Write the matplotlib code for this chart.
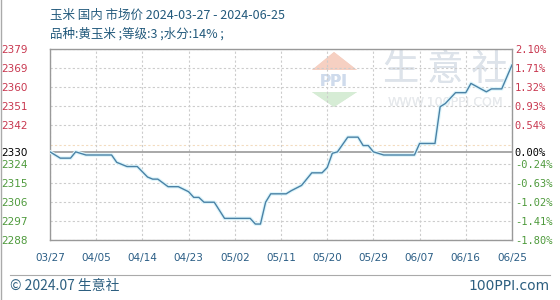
import numpy as np
import pandas as pd
import matplotlib
matplotlib.use("Agg")
import matplotlib.pyplot as plt
import matplotlib.dates as mdates
from matplotlib.patches import Polygon, Ellipse

plt.rcParams['font.family'] = ['Noto Sans CJK SC', 'DejaVu Sans']

# 价格数据
dates = ['2024-03-27', '2024-03-29', '2024-03-31', '2024-04-01', '2024-04-03',
         '2024-04-08', '2024-04-09', '2024-04-11', '2024-04-13', '2024-04-14',
         '2024-04-15', '2024-04-16', '2024-04-17', '2024-04-19', '2024-04-21',
         '2024-04-23', '2024-04-24', '2024-04-25', '2024-04-26', '2024-04-28',
         '2024-04-30', '2024-05-05', '2024-05-06', '2024-05-07', '2024-05-08',
         '2024-05-09', '2024-05-12', '2024-05-13', '2024-05-15', '2024-05-16',
         '2024-05-17', '2024-05-19', '2024-05-20', '2024-05-21', '2024-05-22',
         '2024-05-24', '2024-05-26', '2024-05-27', '2024-05-28', '2024-05-29',
         '2024-05-31', '2024-06-06', '2024-06-07', '2024-06-10', '2024-06-11',
         '2024-06-12', '2024-06-14', '2024-06-16', '2024-06-17', '2024-06-20',
         '2024-06-21', '2024-06-23', '2024-06-25']
prices = [2330, 2327, 2327, 2330, 2328.5,
          2328.5, 2325, 2323, 2323, 2320.5,
          2318, 2317, 2317, 2313.4, 2313.4,
          2311, 2308.3, 2308.3, 2306, 2306,
          2298.3, 2298.3, 2295.6, 2295.6, 2306,
          2310, 2310, 2311.5, 2314, 2317,
          2320, 2320, 2322.5, 2329.3, 2330,
          2337, 2337, 2333, 2333, 2330,
          2328.5, 2328.5, 2334, 2334, 2351.5,
          2353, 2358.2, 2358.2, 2362.6, 2358.6,
          2360, 2360, 2371.4]

base = 2330
left_ticks = [2288, 2297.1, 2306.2, 2315.3, 2324.4, 2342.6, 2351.7, 2360.8, 2369.9, 2379]
left_labels = ['2288', '2297', '2306', '2315', '2324', '2342', '2351', '2360', '2369', '2379']
right_labels = ['-1.80%', '-1.41%', '-1.02%', '-0.63%', '-0.24%', '0.54%', '0.93%', '1.32%', '1.71%', '2.10%']

x = pd.to_datetime(dates)
xticks = pd.date_range('2024-03-27', '2024-06-25', freq='9D')

fig = plt.figure(figsize=(5.6, 3.0), dpi=100)
ax = fig.add_axes([50/560, 60/300, 462/560, 191/300])

red = '#c8374f'
green = '#4e9a3c'
ax.set_ylim(2288, 2379)
ax.set_xlim(xticks[0], xticks[-1])

# 网格
for t in left_ticks:
    ax.axhline(t, color='#cccccc', lw=0.8, ls=(0, (2, 2)), zorder=1)
ax.axhline(2333.5, color='#f3dcc0', lw=0.8, ls=(0, (2, 2)), zorder=1)
for t in xticks:
    ax.axvline(t, color='#cccccc', lw=0.8, ls=(0, (2, 2)), zorder=1)
ax.axhline(base, color='#999999', lw=1.2, zorder=2)

# 水印
wm = ax.inset_axes([0, 0, 1, 1], transform=ax.transAxes)
wm.set_xlim(0, 462)
wm.set_ylim(191, 0)
wm.axis('off')
wm.set_zorder(0)
ax.patch.set_alpha(0)
wm.add_patch(Polygon([[262, 21], [307, 21], [284, 3]], closed=True, color='#f6d0c2', lw=0))
wm.add_patch(Polygon([[262, 43], [307, 43], [284, 58]], closed=True, color='#d6ecd5', lw=0))
wm.text(284, 32, 'PPI', ha='center', va='center', fontsize=11, color='#cfdbec', fontweight='bold',
        family='DejaVu Sans')
wm.text(395, 21, '生 意 社', ha='center', va='center', fontsize=26, color='#dde3ea',
        family='Noto Sans CJK SC')
wm.text(395, 54, 'WWW.100PPI.COM', ha='center', va='center', fontsize=9, color='#e6e9ec',
        family='DejaVu Sans')
fig.add_axes(wm)

ax.set_zorder(1)
ax.plot(x, prices, color='#ddf5fb', lw=2.6, zorder=3, solid_joinstyle='round')
ax.plot(x, prices, color='#4a82a6', lw=1.0, zorder=4)

for s in ax.spines.values():
    s.set_color('#999999')
    s.set_linewidth(1.0)

ax.set_yticks(left_ticks + [base])
ax.set_yticklabels(left_labels + ['2330'], fontsize=7.5, family='DejaVu Sans')
for lab, t in zip(ax.get_yticklabels(), left_ticks + [base]):
    lab.set_color('black' if t == base else (red if t > base else green))
ax.tick_params(axis='y', length=0, pad=16)

ax2 = ax.twinx()
ax2.set_ylim(ax.get_ylim())
ax2.set_yticks(left_ticks + [base])
ax2.set_yticklabels(right_labels + ['0.00%'], fontsize=7.5, family='DejaVu Sans Mono')
for lab, t in zip(ax2.get_yticklabels(), left_ticks + [base]):
    lab.set_color('black' if t == base else (red if t > base else green))
ax2.tick_params(axis='y', length=0, pad=2)
for s in ax2.spines.values():
    s.set_visible(False)

ax.set_xticks(xticks)
ax.set_xticklabels([d.strftime('%m/%d') for d in xticks], fontsize=7.5, color='#2a5d85',
                   family='DejaVu Sans')
ax.tick_params(axis='x', length=0, pad=9)

fig.text(50/560, 1 - 15/300, '玉米 国内 市场价 2024-03-27 - 2024-06-25', fontsize=9,
         color='#235a7c', va='center', ha='left')
fig.text(50/560, 1 - 34/300, '品种:黄玉米 ;等级:3 ;水分:14% ;', fontsize=9,
         color='#235a7c', va='center', ha='left')

fig.add_artist(plt.Line2D([10/560, 550/560], [1 - 275/300, 1 - 275/300], color='#aaaaaa', lw=0.8))
fig.add_artist(plt.Line2D([0.5/560, 0.5/560], [0, 1], color='#aaaaaa', lw=1.0))
fig.text(10/560, 1 - 286/300, '© 2024.07 生意社', fontsize=10, color='#2d5f80', va='center', ha='left')
fig.text(550/560, 1 - 286/300, '100PPI.com', fontsize=10, color='#2d5f80', va='center', ha='right',
         family='DejaVu Sans')

fig.savefig('out.png', dpi=100)
